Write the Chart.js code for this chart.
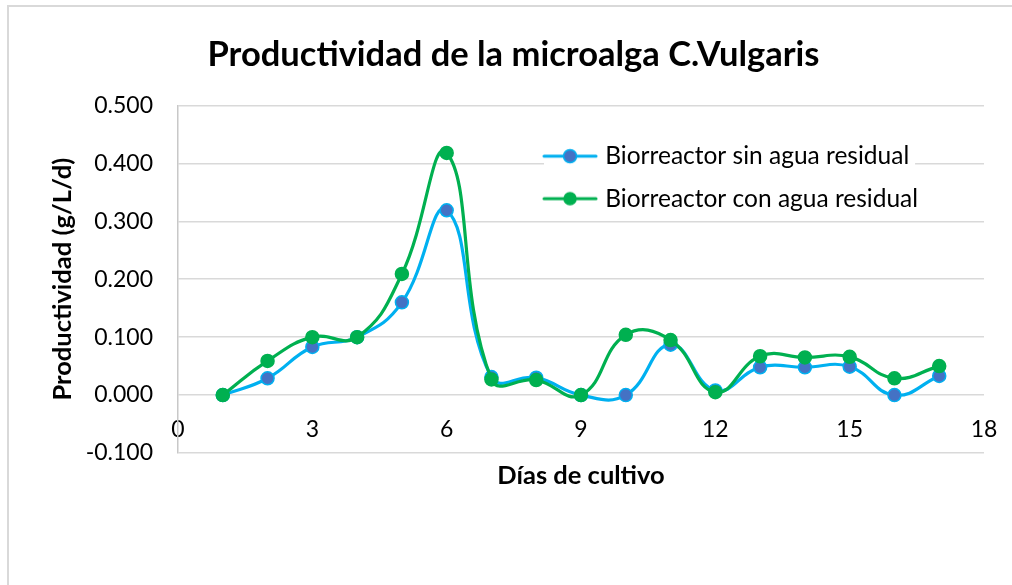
<!DOCTYPE html>
<html>
<head>
<meta charset="utf-8">
<script src="https://cdn.jsdelivr.net/npm/chart.js@4/dist/chart.umd.min.js"></script>
<style>
  html, body { margin: 0; padding: 0; background: #fff; }
  #wrap { position: relative; width: 1012px; height: 585px; overflow: hidden; }
  #frame { position: absolute; left: 7px; top: 5px; width: 1100px; height: 700px;
           border-left: 2px solid #d9d9d9; border-top: 2px solid #d9d9d9; pointer-events: none; }
  canvas { position: absolute; left: 0; top: 0; }
</style>
</head>
<body>
<div id="wrap">
  <canvas id="c" width="1012" height="585"></canvas>
  <div id="frame"></div>
</div>
<script>
// ---- data ----
const days = [1, 2, 3, 4, 5, 6, 7, 8, 9, 10, 11, 12, 13, 14, 15, 16, 17];
const sinAguaResidual = [0.000, 0.029, 0.083, 0.100, 0.160, 0.319, 0.031, 0.030, 0.000, 0.000, 0.087, 0.008, 0.048, 0.048, 0.049, 0.000, 0.033];
const conAguaResidual = [0.000, 0.059, 0.100, 0.100, 0.209, 0.418, 0.027, 0.026, 0.000, 0.104, 0.095, 0.005, 0.067, 0.065, 0.066, 0.029, 0.050];
const seriesNames = ['Biorreactor sin agua residual', 'Biorreactor con agua residual'];
const xTicks = [0, 3, 6, 9, 12, 15, 18];
const yTicks = [-0.1, 0, 0.1, 0.2, 0.3, 0.4, 0.5];

const chartTitle = 'Productividad de la microalga C.Vulgaris';
const xTitle = 'Días de cultivo';
const yTitle = 'Productividad (g/L/d)';

const FONT = 'Lato, "Open Sans", sans-serif';
const BLUE_LINE = '#00b0f0', BLUE_FILL = '#4472c4';
const GREEN = '#00b050';

function legendIcon(line, fill, border, r) {
  const c = document.createElement('canvas');
  c.width = 56; c.height = 18;
  const g = c.getContext('2d');
  g.strokeStyle = line; g.lineWidth = 3; g.lineCap = 'round';
  g.beginPath(); g.moveTo(2, 9); g.lineTo(54, 9); g.stroke();
  g.beginPath(); g.arc(28, 9, r, 0, Math.PI * 2);
  g.fillStyle = fill; g.fill();
  g.lineWidth = 1.5; g.strokeStyle = border; g.stroke();
  return c;
}
const icons = [legendIcon(BLUE_LINE, BLUE_FILL, BLUE_LINE, 6.5), legendIcon(GREEN, GREEN, GREEN, 6)];

const toXY = arr => days.map((d, i) => ({ x: d, y: arr[i] }));

const LEG_PAD = 18;
const legendPlace = {
  id: 'legendPlace',
  afterLayout(chart) {
    const lg = chart.legend, ca = chart.chartArea;
    if (!lg) return;
    const w = lg.width, h = lg.height;
    lg.left = ca.left + (ca.right - ca.left) * 0.4355;
    lg.top = ca.top + 20.5;
    lg.right = lg.left + w;
    lg.bottom = lg.top + h;
    if (!lg._wrappedDraw) {
      const orig = lg.draw.bind(lg);
      lg.draw = function () {
        const ctx = chart.ctx;
        ctx.save();
        ctx.fillStyle = '#ffffff';
        ctx.fillRect(this.left + LEG_PAD - 3, this.top + 13, this.width - 2 * LEG_PAD + 8, 77);
        ctx.restore();
        orig();
      };
      lg._wrappedDraw = true;
    }
  }
};

new Chart(document.getElementById('c'), {
  type: 'scatter',
  data: {
    datasets: [
      {
        label: seriesNames[0],
        data: toXY(sinAguaResidual),
        showLine: true,
        borderColor: BLUE_LINE,
        backgroundColor: BLUE_FILL,
        borderWidth: 3.2,
        pointRadius: 6.5,
        pointBorderWidth: 1.5,
        pointBackgroundColor: BLUE_FILL,
        pointBorderColor: BLUE_LINE,
        tension: 0.45,
        order: 1
      },
      {
        label: seriesNames[1],
        data: toXY(conAguaResidual),
        showLine: true,
        borderColor: GREEN,
        backgroundColor: GREEN,
        borderWidth: 3.2,
        pointRadius: 6.5,
        pointBorderWidth: 1.5,
        pointBackgroundColor: GREEN,
        pointBorderColor: GREEN,
        tension: 0.45,
        order: 0
      }
    ]
  },
  options: {
    responsive: false,
    animation: false,
    layout: { padding: { left: 43, right: 28, top: 6, bottom: 132 } },
    plugins: {
      tooltip: { enabled: false },
      title: {
        display: true,
        text: chartTitle,
        color: '#000',
        font: { family: FONT, size: 34.5, weight: 'bold' },
        padding: { top: 28, bottom: 30 }
      },
      legend: {
        position: 'chartArea',
        align: 'start',
        labels: {
          usePointStyle: true,
          pointStyleWidth: 46,
          padding: LEG_PAD,
          color: '#000',
          font: { family: FONT, size: 24.5 },
          generateLabels(chart) {
            const items = Chart.defaults.plugins.legend.labels.generateLabels(chart);
            items.sort((a, b) => a.datasetIndex - b.datasetIndex);
            items.forEach(it => { it.pointStyle = icons[it.datasetIndex]; });
            return items;
          }
        }
      }
    },
    scales: {
      x: {
        type: 'linear',
        position: { y: 0 },
        min: 0, max: 18,
        afterBuildTicks(scale) { scale.ticks = xTicks.map(v => ({ value: v })); },
        afterFit(scale) { scale.paddingLeft = 0; scale.paddingRight = 0; },
        ticks: { color: '#000', font: { family: FONT, size: 23 }, padding: 21 },
        grid: { display: false, drawTicks: false },
        border: { display: false },
        title: {
          display: true, text: xTitle, color: '#000',
          font: { family: FONT, size: 25.5, weight: 'bold' },
          padding: { top: -4, bottom: 4 }
        }
      },
      y: {
        type: 'linear',
        min: -0.1, max: 0.5,
        afterBuildTicks(scale) { scale.ticks = yTicks.map(v => ({ value: v })); },
        afterFit(scale) { scale.width = 135; },
        ticks: {
          color: '#000', font: { family: FONT, size: 23 }, padding: 25,
          callback: v => (Math.abs(v) < 1e-9 ? 0 : v).toFixed(3)
        },
        grid: { color: '#d9d9d9', lineWidth: 1.5, drawTicks: false },
        border: { color: '#c8c8c8', width: 1.5 },
        title: {
          display: true, text: yTitle, color: '#000',
          font: { family: FONT, size: 25.5, weight: 'bold' },
          padding: { top: 4, bottom: 4 }
        }
      }
    }
  },
  plugins: [legendPlace]
});
</script>
</body>
</html>
